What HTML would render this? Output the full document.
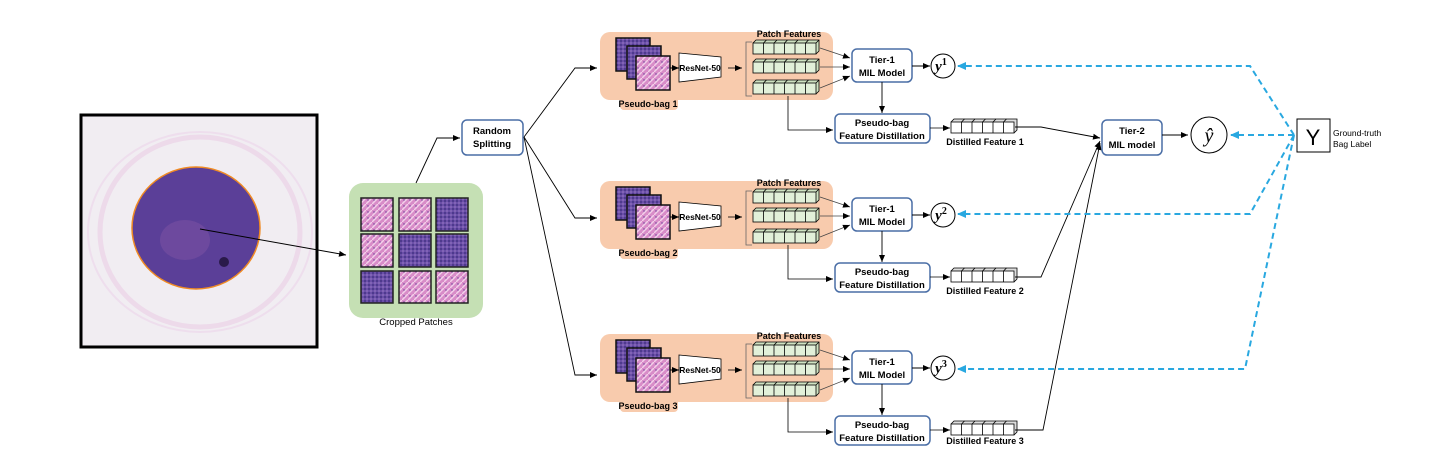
<!DOCTYPE html>
<html><head><meta charset="utf-8"><style>
html,body{margin:0;padding:0;background:#fff;}
svg{display:block;font-family:"Liberation Sans",Arial,sans-serif;}
.b{font-weight:bold;}
</style></head><body>
<svg width="1438" height="465" viewBox="0 0 1438 465" xmlns="http://www.w3.org/2000/svg">
<defs>
<marker id="ah" markerWidth="8" markerHeight="8" refX="7" refY="4" orient="auto" markerUnits="userSpaceOnUse"><path d="M0,1 L7,4 L0,7 z" fill="#000"/></marker>
<marker id="bh" markerWidth="10" markerHeight="10" refX="8" refY="5" orient="auto" markerUnits="userSpaceOnUse"><path d="M0,1 L9,5 L0,9 z" fill="#29a8e0"/></marker>
<pattern id="pp" width="4" height="4" patternUnits="userSpaceOnUse"><rect width="4" height="4" fill="#6b4fa8"/><circle cx="1" cy="1" r="0.9" fill="#3a2a7a"/><circle cx="3" cy="3" r="0.6" fill="#b89ad8"/></pattern>
<pattern id="pk" width="6" height="6" patternUnits="userSpaceOnUse"><rect width="6" height="6" fill="#d88cc8"/><path d="M0,6 L6,0" stroke="#f3d0ea" stroke-width="1.5"/><circle cx="2" cy="2" r="0.7" fill="#6a3f9a"/></pattern>
<g id="frow">
  <path d="M0,0 l3,-3 h63 v11 l-3,3" fill="#cfe2c2" stroke="#000" stroke-width="0.8"/>
  <rect x="0" y="0" width="63" height="11" fill="#e2f0d9" stroke="#000" stroke-width="0.8"/>
  <path d="M10.5,0v11M21,0v11M31.5,0v11M42,0v11M52.5,0v11M10.5,0l3,-3M21,0l3,-3M31.5,0l3,-3M42,0l3,-3M52.5,0l3,-3M63,0l3,-3" stroke="#000" stroke-width="0.8" fill="none"/>
</g>
<g id="drow">
  <path d="M0,0 l3,-3 h63 v11 l-3,3" fill="#ddd" stroke="#000" stroke-width="0.8"/>
  <rect x="0" y="0" width="63" height="11" fill="#fff" stroke="#000" stroke-width="0.8"/>
  <path d="M10.5,0v11M21,0v11M31.5,0v11M42,0v11M52.5,0v11M10.5,0l3,-3M21,0l3,-3M31.5,0l3,-3M42,0l3,-3M52.5,0l3,-3" stroke="#000" stroke-width="0.8" fill="none"/>
</g>
<g id="bag">
  <rect x="600" y="32" width="233" height="68" rx="10" fill="#f8cbad"/>
  <rect x="620" y="92" width="58" height="18" rx="4" fill="#f8cbad"/>
  <rect x="616" y="38" width="34" height="33" fill="url(#pp)" stroke="#111" stroke-width="1.5"/>
  <rect x="627" y="46" width="34" height="33" fill="url(#pp)" stroke="#111" stroke-width="1.5"/>
  <rect x="636" y="56" width="34" height="34" fill="url(#pk)" stroke="#111" stroke-width="1.5"/>
  <line x1="670" y1="68" x2="679" y2="68" stroke="#000" marker-end="url(#ah)"/>
  <path d="M679,53 L721,57 L721,77 L679,82 z" fill="#fff" stroke="#000" stroke-width="0.8"/>
  <text x="700" y="71" font-size="8.5" text-anchor="middle" class="b">ResNet-50</text>
  <line x1="728" y1="68" x2="742" y2="68" stroke="#000" stroke-width="0.8" marker-end="url(#ah)"/>
  <path d="M752,42 h-6 v54 h6" fill="none" stroke="#666" stroke-width="0.8"/>
  <use href="#frow" x="753" y="43"/>
  <use href="#frow" x="753" y="62"/>
  <use href="#frow" x="753" y="83"/>
  <text x="789" y="37" font-size="9" text-anchor="middle" class="b">Patch Features</text>
  <line x1="820" y1="48" x2="850" y2="58" stroke="#444" stroke-width="0.7" marker-end="url(#ah)"/>
  <line x1="820" y1="67" x2="850" y2="67" stroke="#444" stroke-width="0.7" marker-end="url(#ah)"/>
  <line x1="820" y1="88" x2="850" y2="76" stroke="#444" stroke-width="0.7" marker-end="url(#ah)"/>
  <rect x="852" y="49" width="60" height="33" rx="5" fill="#fff" stroke="#4a6ea6" stroke-width="1.5"/>
  <text x="882" y="63" font-size="9.5" text-anchor="middle" class="b">Tier-1</text>
  <text x="882" y="76" font-size="9.5" text-anchor="middle" class="b">MIL Model</text>
  <line x1="912" y1="66" x2="930" y2="66" stroke="#000" marker-end="url(#ah)"/>
  <circle cx="943" cy="66" r="12" fill="#fff" stroke="#000"/>
  <line x1="882" y1="82" x2="882" y2="113" stroke="#000" stroke-width="0.9" marker-end="url(#ah)"/>
  <path d="M788,96 V130 H833" fill="none" stroke="#000" stroke-width="0.8" marker-end="url(#ah)"/>
  <rect x="835" y="114" width="95" height="29" rx="5" fill="#fff" stroke="#4a6ea6" stroke-width="1.5"/>
  <text x="882" y="126" font-size="9.5" text-anchor="middle" class="b">Pseudo-bag</text>
  <text x="882" y="139" font-size="9.5" text-anchor="middle" class="b">Feature Distillation</text>
  <line x1="930" y1="128" x2="950" y2="128" stroke="#000" stroke-width="0.8" marker-end="url(#ah)"/>
  <use href="#drow" x="951" y="122"/>
</g>
</defs>

<!-- WSI -->
<rect x="81" y="115" width="236" height="232" fill="#f1edf2" stroke="#000" stroke-width="3"/>
<ellipse cx="200" cy="232" rx="100" ry="95" fill="none" stroke="#e4b8de" stroke-width="5" opacity="0.35"/>
<ellipse cx="200" cy="232" rx="112" ry="100" fill="none" stroke="#ecc9e6" stroke-width="2" opacity="0.4"/>
<ellipse cx="196" cy="228" rx="64" ry="61" fill="#5b3f98" stroke="#f08a24" stroke-width="1.5"/>
<ellipse cx="185" cy="240" rx="25" ry="20" fill="#8a5aa8" opacity="0.4"/>
<circle cx="224" cy="262" r="5" fill="#2a1a4a"/>
<line x1="200" y1="229" x2="346" y2="255" stroke="#000" marker-end="url(#ah)"/>

<!-- cropped patches -->
<rect x="349" y="183" width="134" height="135" rx="14" fill="#c5e0b4"/>
<g stroke="#222" stroke-width="1.5">
<rect x="361" y="198" width="32" height="33" fill="url(#pk)"/><rect x="399" y="198" width="32" height="33" fill="url(#pk)"/><rect x="436" y="198" width="32" height="33" fill="url(#pp)"/>
<rect x="361" y="234" width="32" height="33" fill="url(#pk)"/><rect x="399" y="234" width="32" height="33" fill="url(#pp)"/><rect x="436" y="234" width="32" height="33" fill="url(#pp)"/>
<rect x="361" y="271" width="32" height="32" fill="url(#pp)"/><rect x="399" y="271" width="32" height="32" fill="url(#pk)"/><rect x="436" y="271" width="32" height="32" fill="url(#pk)"/>
</g>
<text x="416" y="325" font-size="9.5" text-anchor="middle">Cropped Patches</text>

<path d="M416,183 L437,138 H460" fill="none" stroke="#000" stroke-width="0.9" marker-end="url(#ah)"/>
<rect x="462" y="120" width="61" height="35" rx="5" fill="#fff" stroke="#4a6ea6" stroke-width="1.5"/>
<text x="492" y="134" font-size="9.5" text-anchor="middle" class="b">Random</text>
<text x="492" y="147" font-size="9.5" text-anchor="middle" class="b">Splitting</text>
<path d="M524,137 L575,68 H597" fill="none" stroke="#000" stroke-width="0.9" marker-end="url(#ah)"/>
<path d="M524,137 L575,218 H597" fill="none" stroke="#000" stroke-width="0.9" marker-end="url(#ah)"/>
<path d="M524,137 L575,375 H597" fill="none" stroke="#000" stroke-width="0.9" marker-end="url(#ah)"/>

<use href="#bag" x="0" y="0"/>
<use href="#bag" x="0" y="149"/>
<use href="#bag" x="0" y="302"/>
<g font-size="9" class="b" text-anchor="middle">
<text x="648" y="107">Pseudo-bag 1</text>
<text x="648" y="256">Pseudo-bag 2</text>
<text x="648" y="409">Pseudo-bag 3</text>
<text x="985" y="145">Distilled Feature 1</text>
<text x="985" y="294">Distilled Feature 2</text>
<text x="985" y="444">Distilled Feature 3</text>
</g>
<g font-family="Liberation Serif,serif" font-style="italic" font-weight="bold" font-size="15" text-anchor="middle">
<text x="941" y="71">y<tspan font-size="10" font-style="normal" dy="-6">1</tspan></text>
<text x="941" y="220">y<tspan font-size="10" font-style="normal" dy="-6">2</tspan></text>
<text x="941" y="373">y<tspan font-size="10" font-style="normal" dy="-6">3</tspan></text>
</g>

<!-- to tier-2 -->
<path d="M1015,127 H1041 L1100,138" fill="none" stroke="#000" stroke-width="0.9" marker-end="url(#ah)"/>
<path d="M1015,277 H1041 L1100,141" fill="none" stroke="#000" stroke-width="0.9" marker-end="url(#ah)"/>
<path d="M1015,430 H1043 L1100,143" fill="none" stroke="#000" stroke-width="0.9" marker-end="url(#ah)"/>
<rect x="1102" y="120" width="60" height="35" rx="5" fill="#fff" stroke="#4a6ea6" stroke-width="1.5"/>
<text x="1132" y="134" font-size="9.5" text-anchor="middle" class="b">Tier-2</text>
<text x="1132" y="148" font-size="9.5" text-anchor="middle" class="b">MIL model</text>
<line x1="1162" y1="135" x2="1188" y2="135" stroke="#000" marker-end="url(#ah)"/>
<circle cx="1209" cy="135" r="18" fill="#fff" stroke="#000"/>
<text x="1209" y="142" font-family="Liberation Serif,serif" font-style="italic" font-size="20" text-anchor="middle">ŷ</text>

<rect x="1297" y="119" width="33" height="33" fill="#fff" stroke="#000"/>
<text x="1313" y="145" font-size="22" text-anchor="middle">Y</text>
<text x="1333" y="136" font-size="8.5">Ground-truth</text>
<text x="1333" y="147" font-size="8.5">Bag Label</text>

<g fill="none" stroke="#29a8e0" stroke-width="2" stroke-dasharray="6,4">
<path d="M1294,135 L1250,66 H958" marker-end="url(#bh)"/>
<path d="M1294,135 L1250,214 H958" marker-end="url(#bh)"/>
<path d="M1294,135 L1245,369 H958" marker-end="url(#bh)"/>
<path d="M1294,135 H1231" marker-end="url(#bh)"/>
</g>
</svg>
</body></html>
